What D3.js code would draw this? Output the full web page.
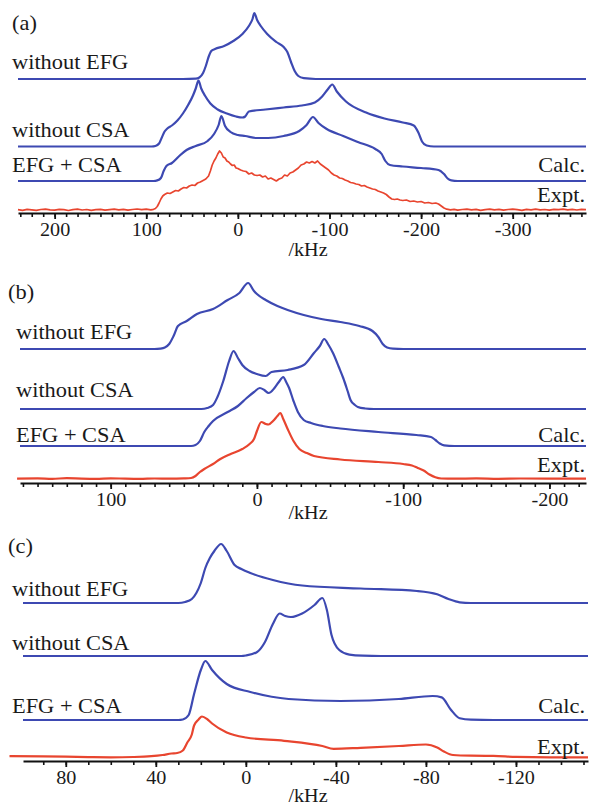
<!DOCTYPE html>
<html>
<head>
<meta charset="utf-8">
<script src="https://cdn.jsdelivr.net/npm/d3@7"></script>
<style>
  html, body { margin: 0; padding: 0; background: #fff; }
  svg { display: block; }
  text { font-family: "Liberation Serif", "DejaVu Serif", serif; fill: #1a1a1a; }
</style>
</head>
<body>
<svg id="chart" width="593" height="806"></svg>
<script>
// Spectra: [frequency in kHz, intensity above the trace's own baseline]

// ---- panel (a) ----
const aNoEFG = [[240,0],[120,0],[60,0],[46,0.3],[42,1.5],[38,6],[35,13],[32,22],[29,28],[25,30],[15,33],[5,38],[-5,45],[-12,53],[-16,60],[-18,66],[-21,59],[-25,53],[-32,45],[-42,37],[-50,32],[-54,27],[-58,17],[-62,8],[-66,3],[-72,0.8],[-85,0],[-200,0],[-380,0]];
const aNoCSA = [[240,0],[120,0],[94,0],[90,0.5],[86,3],[83,9],[80,15],[77,18],[72,21],[66,26],[60,33],[54,42],[49,51],[46,58],[43,66],[40,58],[36,51],[30,43],[22,37],[12,33],[2,30],[-5,29],[-8,30],[-12,35],[-30,37],[-50,39],[-70,41],[-84,44],[-92,50],[-98,57],[-103,62],[-108,55],[-118,45],[-140,34],[-160,28],[-180,24],[-192,21],[-197,14],[-201,5],[-206,1],[-214,0],[-300,0],[-380,0]];
const aCalc = [[240,0],[120,0],[92,0],[88,0.6],[84,3],[81,10],[78,15],[72,18],[64,25],[56,31],[46,35],[33,40],[26,47],[21,56],[18,65],[14,55],[8,49],[0,46],[-8,45],[-20,43],[-33,43],[-50,45],[-67,50],[-75,56],[-82,64],[-88,58],[-97,52],[-115,45],[-131,39],[-150,32],[-157,27],[-161,20],[-166,16],[-180,14.5],[-200,13],[-219,11],[-225,7],[-229,2.5],[-233,0.6],[-240,0],[-300,0],[-380,0]];
const aExpt = [[240,0.4],[235,-0.3],[230,0.6],[225,0.1],[220,-0.4],[215,0.5],[210,0.9],[205,0.2],[200,-0.2],[195,0.6],[190,0.3],[185,-0.5],[180,0.4],[175,0.8],[170,0],[165,0.5],[160,-0.3],[155,0.3],[150,0.7],[145,-0.1],[140,0.4],[135,0.9],[130,0.2],[125,0.6],[120,-0.2],[115,0.5],[110,1],[105,0.3],[100,0.8],[95,0.2],[92,0.7],[90,1.5],[88,3.5],[86,7],[84,11],[82,14],[80,15.5],[77,17],[74,16.5],[71,18],[68,19.5],[65,19],[62,21],[59,22.5],[56,22],[53,24],[50,25],[47,24.5],[44,27],[41,28],[38,29.5],[35,31],[32,34],[30,39],[28,45],[26,49],[24,52],[22,56],[20,59],[18,57],[16,53],[14,52],[12,49],[10,48],[8,46],[6,44.5],[4,45],[2,42],[0,41.5],[-3,40],[-6,39],[-9,38.5],[-12,36],[-15,37],[-18,35],[-21,34.5],[-24,35],[-27,33],[-30,34],[-33,31],[-36,32],[-39,30.5],[-42,29],[-45,31],[-48,32],[-51,35],[-54,34],[-57,37],[-60,38],[-63,40],[-66,42],[-69,45],[-72,46],[-75,48],[-78,47],[-81,48.5],[-84,47],[-87,49],[-90,46],[-93,44],[-96,42],[-99,40],[-102,37],[-105,35],[-108,34],[-111,32],[-114,31.5],[-117,30],[-120,29],[-123,27.5],[-126,27],[-129,26],[-132,25.5],[-135,24],[-138,24.5],[-141,23],[-144,22],[-147,21],[-150,20.5],[-153,19],[-156,18],[-159,17],[-162,15.5],[-165,13],[-168,11],[-171,10.5],[-174,11],[-177,10],[-180,9.5],[-184,10],[-188,8.5],[-192,9],[-196,8],[-200,8.5],[-204,7],[-208,7.5],[-212,6.5],[-216,7],[-219,6],[-222,4],[-225,2],[-228,0.8],[-232,0.2],[-236,0.7],[-240,-0.2],[-245,0.5],[-250,0.9],[-255,0.1],[-260,0.6],[-265,-0.3],[-270,0.4],[-275,0.8],[-280,0.2],[-285,0.6],[-290,-0.2],[-295,0.5],[-300,0.9],[-305,0.3],[-310,-0.3],[-315,0.6],[-320,0.2],[-325,0.8],[-330,0.1],[-335,0.5],[-340,-0.2],[-345,0.7],[-350,0.3],[-355,0.9],[-360,0.2],[-365,0.6],[-370,0],[-375,0.7],[-380,0.4]];
const aTickLabels = [200, 100, 0, -100, -200, -300];

// ---- panel (b) ----
const bNoEFG = [[162,0],[100,0],[70,0],[66,0.4],[63,1.5],[60,5],[57,13],[54,23],[48,28],[41,35],[30,40],[20,49],[12,56],[6,66],[2,58],[0,55],[-6,49],[-14,43],[-21,39],[-32,34],[-44,30],[-57,27],[-70,23],[-79,18],[-83,12],[-86,5],[-89,1.5],[-93,0.3],[-100,0],[-225,0]];
const bNoCSA = [[162,0],[60,0],[38,0],[34,1],[30,4],[27,12],[23,28],[19,48],[16,58],[13,51],[10,44],[5,38],[0,35],[-6,33],[-10,37],[-21,39],[-32,44],[-39,56],[-43,63],[-46,70],[-49,64],[-52,56],[-56,42],[-59,31],[-62,18],[-64,9],[-67,4],[-69,2],[-74,0.5],[-80,0],[-225,0]];
const bCalc = [[162,0],[60,0],[45,0],[42,1],[39,5],[36,14],[33,20],[30,25],[20,34],[13,40],[7,48],[2,54],[-2,58],[-5,56],[-8,53],[-12,58],[-15,64],[-18,69],[-20,64],[-22,58],[-25,45],[-28,34],[-32,26],[-37,23],[-45,20],[-57,17.5],[-83,14],[-109,11],[-119,9],[-122,6],[-125,2.5],[-128,0.7],[-135,0],[-225,0]];
const bExpt = [[164,0.4],[150,0.6],[140,0.2],[130,0.8],[120,0.4],[110,0.2],[100,0.7],[90,0.3],[80,0.1],[70,0.5],[60,0.3],[50,0.6],[45,1],[42,3],[39,7],[36,10],[30,15],[25,20],[18,25],[10,30],[5,35],[2,40],[0,48],[-3,57],[-6,55],[-8,54.5],[-11,58],[-14,63],[-16,66],[-18,60],[-21,50],[-25,38],[-29,30],[-34,26],[-39,23],[-57,19.5],[-83,17],[-100,15],[-106,13.5],[-110,11],[-114,8.5],[-118,4.5],[-122,1.7],[-126,0.5],[-135,0.3],[-150,0.6],[-165,0.2],[-180,0.5],[-200,0.3],[-225,0.4]];
const bTickLabels = [100, 0, -100, -200];

// ---- panel (c) ----
const cNoEFG = [[99,0],[50,0],[30,0],[27,1],[24,4],[22,10],[20,20],[18,35],[16,45],[14,52],[11,59],[8.5,52],[5,38],[2,34],[-2,30],[-12,23],[-25,17.5],[-51,14.5],[-76,12],[-85,8.7],[-90,4],[-95,0.7],[-100,0],[-152,0]];
const cNoCSA = [[99,0],[10,0],[2,0],[0,0.5],[-5,4],[-8.5,14],[-12,32],[-15,42.5],[-17.5,40],[-20,39],[-25,42.5],[-30.5,51],[-34,58],[-36,46],[-38,21.6],[-41.5,6],[-46,1.4],[-52,0.3],[-60,0],[-152,0]];
const cCalc = [[99,0],[40,0],[30,0],[28,0.5],[25.4,5],[23,26],[20,50],[18,59],[15,50],[8.5,36],[-2,28],[-19,21],[-42,19],[-68,21],[-83,24],[-87,22.6],[-91,10.5],[-95,1.7],[-100,0.3],[-110,0],[-152,0]];
const cExpt = [[105,0.3],[90,0.1],[80,-0.1],[70,-0.6],[60,-0.8],[50,-0.5],[42,0.3],[37,1.5],[33,3],[30.5,3.5],[28,6],[26,14],[24,22],[23,31],[21,37],[19.5,40],[17,37],[15,33],[8.5,24],[0,19],[-17,15.7],[-34,10.5],[-39,7.7],[-51,8.7],[-68,10.5],[-80,12],[-85,9],[-88,5],[-92,1.5],[-100,0.8],[-110,0.6],[-120,-0.4],[-135,-0.8],[-152,-0.8]];
const cTickLabels = [80, 40, 0, -40, -80, -120];

const traceNames = ["without EFG", "without CSA", "EFG + CSA"];
const sideNames = ["Calc.", "Expt."];
const panelTags = ["(a)", "(b)", "(c)"];
const unitLabel = "/kHz";

// ---- layout ----
const blue = "#3d49b2", red = "#e8452f";
const panels = [
  { tag: panelTags[0], tagX: 12, domain: [240, -380], range: [18, 586], axisY: 213, minor: 12.5,
    series: [aNoEFG, aNoCSA, aCalc, aExpt], offsets: [134, 66.5, 32, 3], ticks: aTickLabels,
    tagY: 23, nameY: [62, 130, 165], calcY: 165, exptY: 195, nameX: 12, unitY: 250, linear: true },
  { tag: panelTags[1], tagX: 8, domain: [162, -225], range: [20, 586], axisY: 483, minor: 10,
    series: [bNoEFG, bNoCSA, bCalc, bExpt], offsets: [134, 74, 37, 4], ticks: bTickLabels,
    tagY: 292, nameY: [332, 390, 435], calcY: 435, exptY: 465, nameX: 16, unitY: 513 },
  { tag: panelTags[2], tagX: 8, domain: [99, -152], range: [23, 588], axisY: 761, minor: 10,
    series: [cNoEFG, cNoCSA, cCalc, cExpt], offsets: [158, 105, 41, 4.5], ticks: cTickLabels,
    tagY: 546, nameY: [589, 643, 706], calcY: 706, exptY: 747, nameX: 12, unitY: 796 }
];

const svg = d3.select("#chart");
const stretch = "scale(1.12,1)";

function label(g, txt, x, y, size, anchor) {
  g.append("text")
    .attr("transform", `translate(${x},${y}) ${stretch}`)
    .attr("dy", "0.35em")
    .attr("font-size", size)
    .attr("text-anchor", anchor || "start")
    .text(txt);
}

panels.forEach(p => {
  const g = svg.append("g");
  const x = d3.scaleLinear().domain(p.domain).range(p.range);
  const y = d3.scaleLinear().domain([0, 200]).range([p.axisY, p.axisY - 200]);

  // traces
  p.series.forEach((s, i) => {
    const isExpt = i === 3;
    const line = d3.line()
      .x(d => x(d[0]))
      .y(d => y(p.offsets[i] + d[1]))
      .curve(isExpt && p.linear ? d3.curveLinear : d3.curveMonotoneX);
    g.append("path")
      .datum(s)
      .attr("d", line)
      .attr("fill", "none")
      .attr("stroke", isExpt ? red : blue)
      .attr("stroke-width", isExpt && p.linear ? 1.7 : 2.2)
      .attr("stroke-linejoin", "round");
  });

  // minor ticks
  const lo = Math.min(...p.domain), hi = Math.max(...p.domain);
  const minorVals = d3.range(Math.ceil(lo / p.minor) * p.minor, hi + 0.001, p.minor);
  g.append("g")
    .attr("transform", `translate(0,${p.axisY})`)
    .call(d3.axisBottom(x).tickValues(minorVals).tickSize(4).tickSizeOuter(0).tickFormat(""))
    .call(a => a.selectAll("line").attr("stroke", "#111").attr("stroke-width", 1.6))
    .call(a => a.select(".domain").attr("stroke", "#111").attr("stroke-width", 2.2));

  // labelled ticks
  g.append("g")
    .attr("transform", `translate(0,${p.axisY})`)
    .call(d3.axisBottom(x).tickValues(p.ticks).tickSize(6).tickPadding(4).tickSizeOuter(0).tickFormat(d3.format("d")))
    .call(a => a.select(".domain").remove())
    .call(a => a.selectAll("line").attr("stroke", "#111").attr("stroke-width", 1.8))
    .call(a => a.selectAll("text")
      .attr("font-size", 18)
      .attr("font-family", "Liberation Serif, serif")
      .attr("fill", "#1a1a1a")
      .attr("transform", stretch)
      .text(d => d < 0 ? "-" + Math.abs(d) : d));

  // texts
  label(g, p.tag, p.tagX, p.tagY, 20);
  traceNames.forEach((t, i) => label(g, t, p.nameX, p.nameY[i], 20));
  label(g, sideNames[0], 585, p.calcY, 20, "end");
  label(g, sideNames[1], 585, p.exptY, 20, "end");
  label(g, unitLabel, 308, p.unitY, 18, "middle");
});
</script>
</body>
</html>
